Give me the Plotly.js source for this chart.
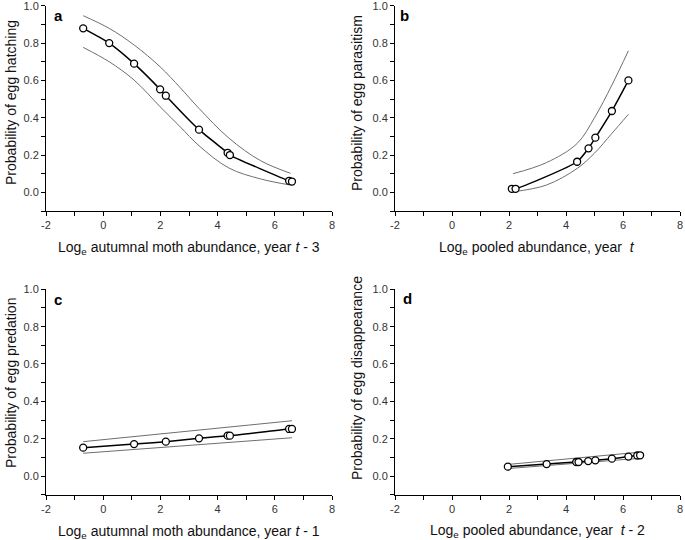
<!DOCTYPE html>
<html><head><meta charset="utf-8">
<script src="https://cdn.plot.ly/plotly-3.0.1.min.js"></script>
<style>html,body{margin:0;padding:0;background:#fff}#g{width:685px;height:540px}</style>
</head><body><div id="g"></div>
<script>
// Panel a: hatching
const aX = [-0.70, 0.21, 1.08, 1.99, 2.19, 3.35, 4.35, 4.43, 6.50, 6.60];
const aY = [0.879, 0.800, 0.690, 0.552, 0.518, 0.336, 0.212, 0.200, 0.062, 0.058];
const aBandX = [-0.70, 0.21, 1.08, 1.99, 2.70, 3.35, 4.40, 5.50, 6.55];
const aUp = [0.947, 0.879, 0.790, 0.673, 0.560, 0.450, 0.290, 0.170, 0.102];
const aLo = [0.777, 0.700, 0.602, 0.459, 0.350, 0.250, 0.130, 0.072, 0.039];
// Panel b: parasitism
const bX = [2.10, 2.23, 4.39, 4.79, 5.03, 5.61, 6.19];
const bY = [0.019, 0.019, 0.164, 0.236, 0.293, 0.436, 0.600];
const bBandX = [2.14, 3.31, 4.39, 5.00, 5.61, 6.19];
const bUp = [0.100, 0.159, 0.262, 0.400, 0.575, 0.759];
const bLo = [0.003, 0.039, 0.128, 0.210, 0.316, 0.418];
// Panel c: predation
const cX = [-0.70, 1.08, 2.19, 3.35, 4.35, 4.43, 6.50, 6.60];
const cY = [0.152, 0.171, 0.184, 0.202, 0.216, 0.216, 0.252, 0.252];
const cBandX = [-0.70, 6.60];
const cUp = [0.184, 0.296];
const cLo = [0.122, 0.205];
// Panel d: disappearance
const dX = [1.96, 3.32, 4.36, 4.44, 4.78, 5.03, 5.61, 6.19, 6.50, 6.60];
const dY = [0.050, 0.064, 0.075, 0.075, 0.080, 0.084, 0.093, 0.104, 0.110, 0.111];
const dBandX = [1.96, 6.60];
const dUp = [0.062, 0.128];
const dLo = [0.040, 0.095];

// Tick labels
const xTickVals = [-2, 0, 2, 4, 6, 8];
const xTickText = ['-2', '0', '2', '4', '6', '8'];
const yTickVals = [0, 0.2, 0.4, 0.6, 0.8, 1.0];
const yTickText = ['0.0', '0.2', '0.4', '0.6', '0.8', '1.0'];

const xTitles = ['Log<sub>e</sub> autumnal moth abundance, year <i>t</i> - 3',
  'Log<sub>e</sub> pooled abundance, year&nbsp; <i>t</i>',
  'Log<sub>e</sub> autumnal moth abundance, year <i>t</i> - 1',
  'Log<sub>e</sub> pooled abundance, year&nbsp; <i>t</i> - 2'];
const yTitles = ['Probability of egg hatching','Probability of egg parasitism',
  'Probability of egg predation','Probability of egg disappearance'];
const letters = ['a','b','c','d'];

const panels = [
  {x:aX,y:aY,bx:aBandX,up:aUp,lo:aLo},
  {x:bX,y:bY,bx:bBandX,up:bUp,lo:bLo},
  {x:cX,y:cY,bx:cBandX,up:cUp,lo:cLo},
  {x:dX,y:dY,bx:dBandX,up:dUp,lo:dLo}
];
const sfx = ['','2','3','4'];
const traces = [];
panels.forEach((p,i)=>{
  const xa='x'+sfx[i], ya='y'+sfx[i];
  const band = {mode:'lines', line:{color:'#6e6e6e', width:1, shape:'spline'}, hoverinfo:'skip', showlegend:false, xaxis:xa, yaxis:ya};
  traces.push(Object.assign({x:p.bx, y:p.up}, band));
  traces.push(Object.assign({x:p.bx, y:p.lo}, band));
  traces.push({x:p.x, y:p.y, mode:'lines+markers', line:{color:'#000', width:1.5, shape:'spline', smoothing:0.6},
    marker:{symbol:'circle', size:7, color:'#fff', line:{color:'#000', width:1.3}}, showlegend:false, xaxis:xa, yaxis:ya});
});

const W=685, H=540;
const xDom = [[46/W, 332/W],[395/W, 680/W]];
const yDom = [[(H-211)/H, (H-5.8)/H],[(H-494.7)/H, (H-289.3)/H]];
const tf = {family:'Liberation Sans, Arial, sans-serif', size:11, color:'#333'};
function xax(i){ return {domain:xDom[i%2], range:[-2,8], anchor:'y'+sfx[i], showline:true, linecolor:'#000', linewidth:1,
  ticks:'outside', ticklen:4, tickcolor:'#000', tickwidth:1, tickmode:'array', tickvals:xTickVals, ticktext:xTickText,
  tickfont:tf, showgrid:false, zeroline:false, ticklabeloverflow:'allow',
  minor:{ticks:'outside', ticklen:4, tickcolor:'#000', dtick:1, tick0:0, showgrid:false}, fixedrange:true}; }
function yax(i){ return {domain:yDom[Math.floor(i/2)], range:[-0.1,1.0], anchor:'x'+sfx[i], showline:true, linecolor:'#000', linewidth:1,
  ticks:'outside', ticklen:4, tickcolor:'#000', tickwidth:1, tickmode:'array', tickvals:yTickVals, ticktext:yTickText,
  tickfont:tf, showgrid:false, zeroline:false, ticklabeloverflow:'allow',
  minor:{ticks:'outside', ticklen:4, tickcolor:'#000', dtick:0.1, tick0:0, showgrid:false}, fixedrange:true}; }

const layout = {width:W, height:H, margin:{l:0,r:0,t:0,b:0}, paper_bgcolor:'#fff', plot_bgcolor:'#fff', showlegend:false, annotations:[]};
for(let i=0;i<4;i++){ layout['xaxis'+sfx[i]]=xax(i); layout['yaxis'+sfx[i]]=yax(i); }

const af = {family:'Liberation Sans, Arial, sans-serif', size:14, color:'#111'};
const xtPos = [[189,248],[537,248],[189,532],[537,531]];
const ytPos = [[11,103],[357,103],[11,383],[357,378]];
const ltPos = [[58,15],[404,15],[58,299],[407,298]];
for(let i=0;i<4;i++){
  layout.annotations.push({text:xTitles[i], xref:'paper', yref:'paper', x:xtPos[i][0]/W, y:1-xtPos[i][1]/H, xanchor:'center', yanchor:'middle', showarrow:false, font:af});
  layout.annotations.push({text:yTitles[i], xref:'paper', yref:'paper', x:ytPos[i][0]/W, y:1-ytPos[i][1]/H, xanchor:'center', yanchor:'middle', textangle:-90, showarrow:false, font:af});
  layout.annotations.push({text:'<b>'+letters[i]+'</b>', xref:'paper', yref:'paper', x:ltPos[i][0]/W, y:1-ltPos[i][1]/H, xanchor:'center', yanchor:'middle', showarrow:false, font:{family:'Liberation Sans, Arial, sans-serif', size:15, color:'#000'}});
}
Plotly.newPlot('g', traces, layout, {staticPlot:true, displayModeBar:false});
</script></body></html>
